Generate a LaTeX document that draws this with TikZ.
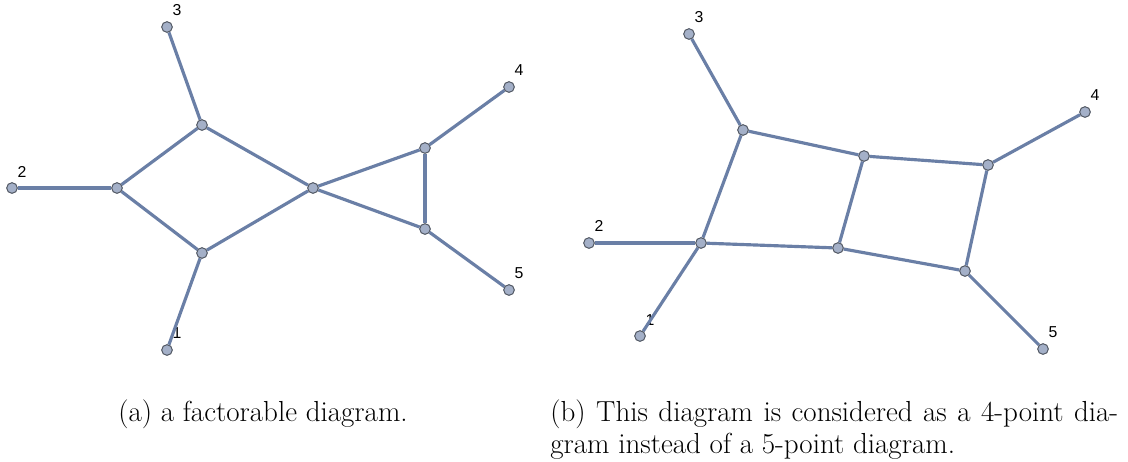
\documentclass[tikz,border=0pt]{standalone}
\usepackage{fontspec}
\newfontfamily\lblfont{Liberation Sans}
\usetikzlibrary{positioning}
\definecolor{edgeblue}{HTML}{6A7FA6}
\definecolor{dotfill}{HTML}{A4B0C8}
\definecolor{dotline}{HTML}{555B66}

\begin{document}
\begin{tikzpicture}[x=0.02cm, y=-0.02cm,
  vert/.style={circle, draw=dotline, fill=dotfill, line width=0.5pt, inner sep=0pt, minimum size=0.21cm},
  lbl/.style={font=\lblfont\fontsize{9}{11}\selectfont, inner sep=0pt},
  prop/.style={line width=1.8pt, edgeblue},
  capt/.style={font=\fontsize{16.5}{18.2}\selectfont, inner sep=0pt}
]
  \useasboundingbox (0,0) rectangle (1128,461);

  % (a) factorable diagram
  \node[vert] (a3) at (167,27)  {};
  \node[vert] (a2) at (12,188)  {};
  \node[vert] (a1) at (167,350) {};
  \node[vert] (a4) at (509,87)  {};
  \node[vert] (a5) at (509,290) {};
  \node[vert] (au) at (202,125) {};
  \node[vert] (al) at (117,188) {};
  \node[vert] (ad) at (202,253) {};
  \node[vert] (ac) at (313,188) {};
  \node[vert] (at) at (425,148) {};
  \node[vert] (ab) at (425,229) {};

  \node[lbl] (la3) at (177,10)  {3};
  \node[lbl] (la2) at (22,172)  {2};
  \node[lbl] (la1) at (177,333) {1};
  \node[lbl] (la4) at (519,70)  {4};
  \node[lbl] (la5) at (519,273) {5};

  \draw[prop] (a3) -- (au);
  \draw[prop] (a2) -- (al);
  \draw[prop] (al) -- (au);
  \draw[prop] (al) -- (ad);
  \draw[prop] (ad) -- (a1);
  \draw[prop] (au) -- (ac);
  \draw[prop] (ad) -- (ac);
  \draw[prop] (ac) -- (at);
  \draw[prop] (ac) -- (ab);
  \draw[prop] (at) -- (ab);
  \draw[prop] (at) -- (a4);
  \draw[prop] (ab) -- (a5);

  % (b) 4-point diagram
  \node[vert] (b3) at (689,34)   {};
  \node[vert] (b4) at (1085,112) {};
  \node[vert] (b2) at (589,243)  {};
  \node[vert] (b1) at (640,336)  {};
  \node[vert] (b5) at (1043,349) {};
  \node[vert] (p1) at (743,130)  {};
  \node[vert] (p2) at (864,156)  {};
  \node[vert] (p3) at (988,165)  {};
  \node[vert] (q1) at (701,243)  {};
  \node[vert] (q2) at (838,248)  {};
  \node[vert] (q3) at (965,271)  {};

  \node[lbl] (lb3) at (699,17)   {3};
  \node[lbl] (lb4) at (1095,95)  {4};
  \node[lbl] (lb2) at (599,226)  {2};
  \node[lbl] (lb1) at (650,320)  {1};
  \node[lbl] (lb5) at (1053,332) {5};

  \draw[prop] (b3) -- (p1);
  \draw[prop] (p1) -- (p2);
  \draw[prop] (p2) -- (p3);
  \draw[prop] (p3) -- (b4);
  \draw[prop] (p1) -- (q1);
  \draw[prop] (b2) -- (q1);
  \draw[prop] (q1) -- (q2);
  \draw[prop] (q2) -- (p2);
  \draw[prop] (q2) -- (q3);
  \draw[prop] (q3) -- (p3);
  \draw[prop] (q1) -- (b1);
  \draw[prop] (q3) -- (b5);

  % redraw dots above the lines
  \foreach \n in {a1,a2,a3,a4,a5,au,al,ad,ac,at,ab,b1,b2,b3,b4,b5,p1,p2,p3,q1,q2,q3}
    \node[vert] at (\n) {};

  % captions
  \node[capt, anchor=north] (capa) at (263,399) {(a) a factorable diagram.};
  \node[capt, anchor=north west, align=left] (capb) at (550,399)
    {\makebox[11.36cm][s]{(b) This diagram is considered as a 4-point dia-}\\gram instead of a 5-point diagram.};
\end{tikzpicture}
\end{document}
